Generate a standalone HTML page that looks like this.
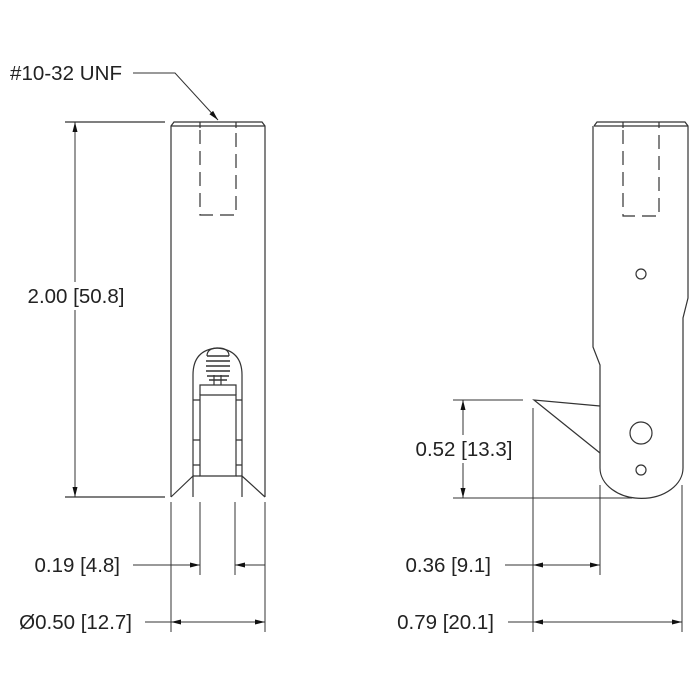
<!DOCTYPE html>
<html><head><style>body{margin:0;background:#fff}svg{display:block}text{font-family:"Liberation Sans",sans-serif;font-size:20.5px;fill:#222}</style></head><body>
<svg width="700" height="700" viewBox="0 0 700 700" xmlns="http://www.w3.org/2000/svg">
<defs><marker id="a" viewBox="0 0 10 6" refX="10" refY="3" markerWidth="15" markerHeight="6" orient="auto-start-reverse" markerUnits="userSpaceOnUse"><path d="M0,0.5L10,3L0,5.5z" fill="#111"/></marker></defs>
<g fill="none" stroke="#333" stroke-width="1.2">
<path d="M171,497 V126 L174,122 H262 L265,126 V497"/>
<path d="M171,126 H265"/>
<path d="M200,122 L200,128 M236,122 L236,128"/>
<path d="M200,130 V215 H236 V130" stroke-dasharray="14,7"/>
<path d="M171,497 L193,476 V497 M265,497 L242,476 V497"/>
<path d="M193,476 V375 Q193,350 217,348 Q242,350 242,375 V476"/>
<path d="M200,476 V395 H236 V476 Z"/>
<path d="M200,476 H193 M236,476 H242"/>
<path d="M193,400 H200 M193,440 H200 M193,465 H200 M236,400 H242 M236,440 H242 M236,465 H242"/>
<path d="M200,395 V385 H236 V395 M214,385 V375 M221,385 V375"/>
<path d="M207,356 H229 M206,361 H230 M206,366 H230 M206,371 H230 M207,376 H229 M209,380 H227" stroke-width="1.6"/>
<path d="M207,356 Q207,348 218,348 Q229,348 229,356"/>
<path d="M594,126 L597,122 H685 L688,126 V298 L683,318 V468 A41,30 0 0 1 600,468 V365 L593,347 V126"/>
<path d="M594,126 H688 M623,122 V128 M659,122 V128"/>
<path d="M623,130 V216 H659 V130" stroke-dasharray="14,7"/>
<circle cx="641" cy="274" r="5"/>
<circle cx="641" cy="433" r="11"/>
<circle cx="641" cy="470" r="5"/>
<path d="M600,406 L534,400 L600,453"/>
<path d="M65,122 H165 M65,497 H165"/>
<path d="M75,122 V497" marker-start="url(#a)" marker-end="url(#a)" stroke-width="1"/>
<path d="M200,502 V575 M235,502 V575 M171,502 V632 M265,502 V632" stroke-width="1"/>
<path d="M133,565 H200" marker-end="url(#a)" stroke-width="1"/>
<path d="M265,565 H235" marker-end="url(#a)" stroke-width="1"/>
<path d="M145,622 H171" stroke-width="1"/>
<path d="M171,622 H265" marker-start="url(#a)" marker-end="url(#a)" stroke-width="1"/>
<path d="M133,73 H175 L218,120" marker-end="url(#a)" stroke-width="1"/>
<path d="M453,400 H523 M453,498 H632" stroke-width="1"/>
<path d="M463,400 V498" marker-start="url(#a)" marker-end="url(#a)" stroke-width="1"/>
<path d="M533,408 V632 M600,485 V575 M682,485 V632" stroke-width="1"/>
<path d="M505,565 H533" stroke-width="1"/>
<path d="M533,565 H600" marker-start="url(#a)" marker-end="url(#a)" stroke-width="1"/>
<path d="M508,622 H533" stroke-width="1"/>
<path d="M533,622 H682" marker-start="url(#a)" marker-end="url(#a)" stroke-width="1"/>
</g>
<rect x="20" y="282" width="112" height="28" fill="#fff"/>
<rect x="408" y="435" width="112" height="28" fill="#fff"/>
<text x="122" y="80" text-anchor="end" textLength="112">#10-32 UNF</text>
<text x="76" y="303" text-anchor="middle">2.00 [50.8]</text>
<text x="120" y="572" text-anchor="end">0.19 [4.8]</text>
<text x="132" y="629" text-anchor="end">Ø0.50 [12.7]</text>
<text x="464" y="456" text-anchor="middle">0.52 [13.3]</text>
<text x="491" y="572" text-anchor="end">0.36 [9.1]</text>
<text x="494" y="629" text-anchor="end">0.79 [20.1]</text>
</svg>
</body></html>
